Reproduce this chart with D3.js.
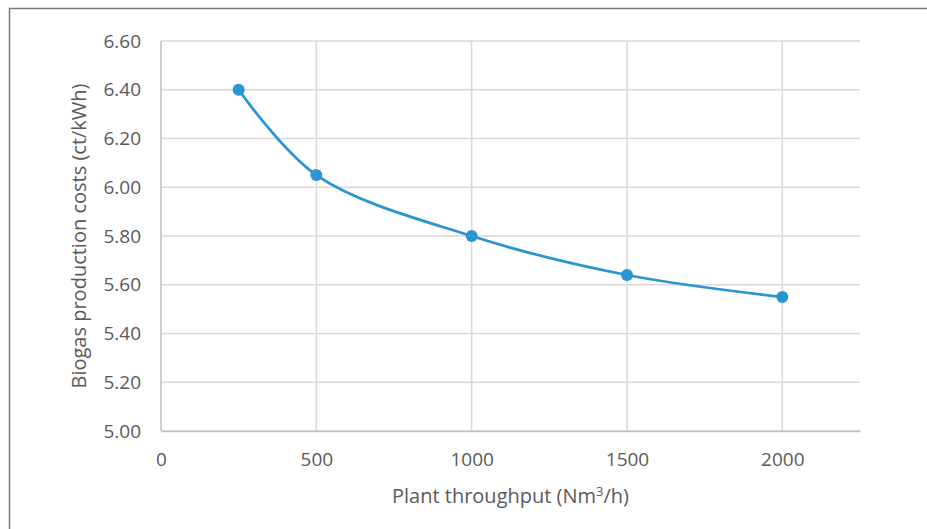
<!DOCTYPE html>
<html>
<head>
<meta charset="utf-8">
<script src="https://cdn.jsdelivr.net/npm/d3@7"></script>
<style>
  body { margin: 0; background: #fff; }
  svg { display: block; }
  text { font-family: "Open Sans", "Liberation Sans", sans-serif; fill: #595959; }
</style>
</head>
<body>
<div id="chart"></div>
<script>
const throughput = [250, 500, 1000, 1500, 2000]
const costs = [6.40, 6.05, 5.80, 5.64, 5.55]
const xTicks = [0, 500, 1000, 1500, 2000]
const yTicks = [5.00, 5.20, 5.40, 5.60, 5.80, 6.00, 6.20, 6.40, 6.60]

const width = 927
const height = 529
const padding = { left: 161, right: 67, top: 41, bottom: 98 }

const svg = d3.select('#chart')
  .append('svg')
  .attr('width', width)
  .attr('height', height)

// outer frame (top + left edges visible)
svg.append('path')
  .attr('d', `M9.5,${height} V8.5 H${width}`)
  .attr('fill', 'none')
  .attr('stroke', '#7a7a7a')
  .attr('stroke-width', 1.5)

const xScale = d3.scaleLinear()
  .domain([0, 2250])
  .range([padding.left, width - padding.right])
const yScale = d3.scaleLinear()
  .domain([5.0, 6.6])
  .range([height - padding.bottom, padding.top])

// gridlines
const grid = svg.append('g').attr('stroke', '#d9d9d9').attr('stroke-width', 1.5)
grid.selectAll('.hy')
  .data(yTicks)
  .enter()
  .append('line')
  .attr('x1', xScale(0))
  .attr('x2', xScale(2250))
  .attr('y1', d => yScale(d))
  .attr('y2', d => yScale(d))
grid.selectAll('.vx')
  .data(xTicks.slice(1))
  .enter()
  .append('line')
  .attr('x1', d => xScale(d))
  .attr('x2', d => xScale(d))
  .attr('y1', yScale(5.0))
  .attr('y2', yScale(6.6))
// left axis line
grid.append('line')
  .attr('x1', xScale(0)).attr('x2', xScale(0))
  .attr('y1', yScale(5.0)).attr('y2', yScale(6.6))
  .attr('stroke', '#bfbfbf')

const xAxis = d3.axisBottom(xScale).tickValues(xTicks).tickSize(0).tickPadding(22)
  .tickFormat(d3.format('d'))
const yAxis = d3.axisLeft(yScale).tickValues(yTicks).tickSize(0).tickPadding(20)
  .tickFormat(d3.format('.2f'))

const gx = svg.append('g')
  .attr('transform', `translate(0, ${yScale(5.0)})`)
  .call(xAxis)
gx.select('.domain').attr('stroke', '#bfbfbf').attr('stroke-width', 1.5)
gx.selectAll('text').attr('font-size', 19).attr('fill', '#595959')
  .attr('font-family', '"Open Sans", sans-serif')

const gy = svg.append('g')
  .attr('transform', `translate(${padding.left}, 0)`)
  .call(yAxis)
gy.select('.domain').remove()
gy.selectAll('text').attr('font-size', 19).attr('fill', '#595959')
  .attr('font-family', '"Open Sans", sans-serif')

// line
const line = d3.line()
  .x((d, i) => xScale(throughput[i]))
  .y(d => yScale(d))
  .curve(d3.curveCatmullRom.alpha(0.5))

svg.append('path')
  .datum(costs)
  .attr('d', line)
  .attr('fill', 'none')
  .attr('stroke', '#2b95d3')
  .attr('stroke-width', 2.8)

svg.selectAll('circle')
  .data(costs)
  .enter()
  .append('circle')
  .attr('cx', (d, i) => xScale(throughput[i]))
  .attr('cy', d => yScale(d))
  .attr('r', 6)
  .attr('fill', '#2b95d3')

// axis titles
svg.append('text')
  .attr('x', (xScale(0) + xScale(2250)) / 2)
  .attr('y', 503)
  .attr('text-anchor', 'middle')
  .attr('font-size', 20)
  .html('Plant throughput (Nm<tspan dy="-7" font-size="13">3</tspan><tspan dy="7">/h)</tspan>')

svg.append('text')
  .attr('transform', `translate(86, ${(yScale(5.0) + yScale(6.6)) / 2}) rotate(-90)`)
  .attr('text-anchor', 'middle')
  .attr('font-size', 20)
  .text('Biogas production costs (ct/kWh)')
</script>
</body>
</html>
